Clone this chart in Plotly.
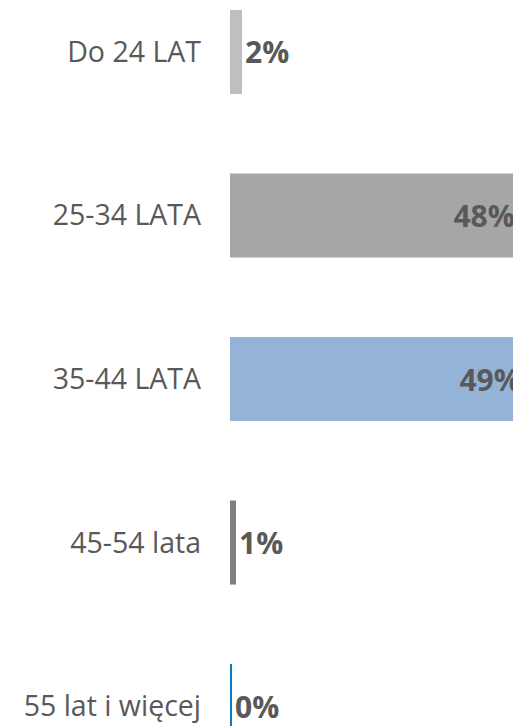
import plotly.graph_objects as go

categories = ["Do 24 LAT", "25-34 LATA", "35-44 LATA", "45-54 lata", "55 lat i więcej"]
values = [2.0, 48.0, 49.0, 1.0, 0.2]
labels = ["2%", "48%", "49%", "1%", "0%"]
colors = ["#BFBFBF", "#A6A6A6", "#95B3D7", "#7F7F7F", "#0A7BC8"]
text_positions = ["outside", "inside", "inside", "outside", "outside"]

fig = go.Figure(
    go.Bar(
        x=values,
        y=categories,
        orientation="h",
        marker=dict(color=colors, line=dict(width=0)),
        text=labels,
        textposition=text_positions,
        insidetextanchor="end",
        textfont=dict(family="Open Sans", size=30, color="#595959", weight="bold"),
        cliponaxis=True,
        hoverinfo="skip",
    )
)

fig.update_layout(
    width=513,
    height=726,
    margin=dict(l=230, r=0, t=0, b=0),
    paper_bgcolor="white",
    plot_bgcolor="white",
    bargap=0.486,
    showlegend=False,
    font=dict(family="Open Sans", color="#595959"),
)
fig.update_xaxes(range=[0, 47.2], visible=False, showgrid=False, zeroline=False)
fig.update_yaxes(
    categoryorder="array",
    categoryarray=categories,
    range=[4.122, -0.318],
    showgrid=False,
    zeroline=False,
    showline=False,
    ticks="",
    ticklabelstandoff=28,
    tickfont=dict(family="Open Sans", size=28.5, color="#595959"),
)

fig.write_html(
    "out.html",
    config={"displayModeBar": False},
    post_script="document.body.style.margin='0';document.body.style.overflow='hidden';",
)
